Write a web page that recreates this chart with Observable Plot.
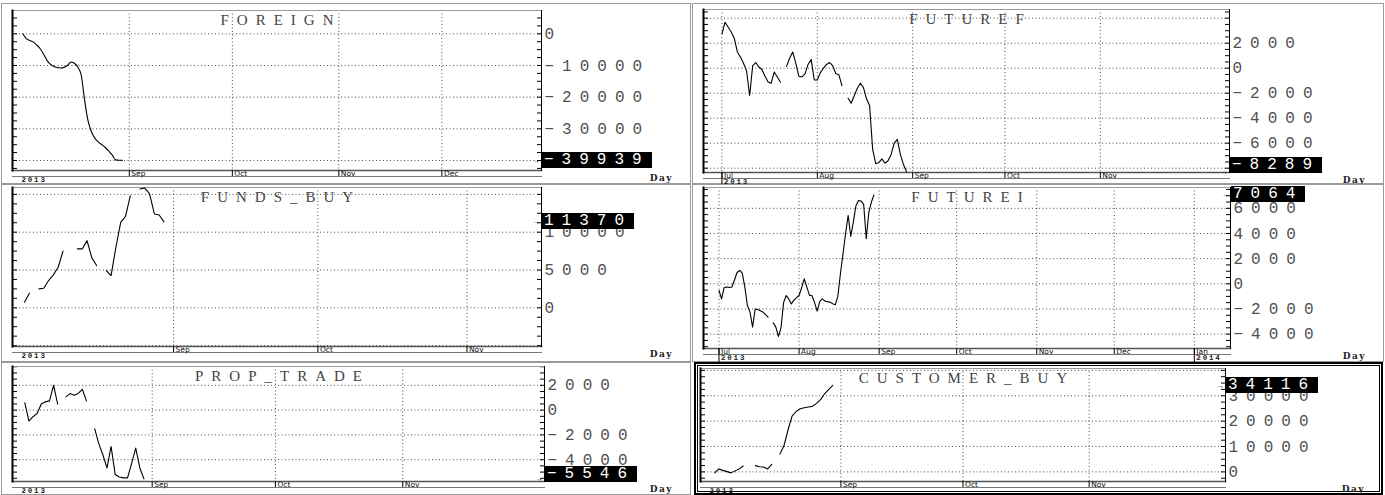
<!DOCTYPE html>
<html><head><meta charset="utf-8">
<script src="https://cdn.jsdelivr.net/npm/d3@7"></script>
<script src="https://cdn.jsdelivr.net/npm/@observablehq/plot@0.6"></script>
<style>
body{margin:0;background:#fff;}
#root{position:relative;width:1385px;height:495px;background:#fff;overflow:hidden}
.panel{position:absolute;background:#fff;overflow:hidden;box-shadow:inset 0 0 0 1px #9a9a9a;}
.panel.sel{box-shadow:inset 0 0 0 2px #000, inset 0 0 0 3px #fff, inset 0 0 0 4px #000;}
.panel svg{position:absolute;left:0;top:0;overflow:visible}
g[aria-label="y-axis tick label"] text{letter-spacing:8px}
.vbox{position:absolute;background:#000;color:#fff;font:16px "Liberation Mono",monospace;letter-spacing:8px;line-height:16px;height:16px;padding:0 2px 0 2px;white-space:nowrap}
.day{position:absolute;font:600 9px "DejaVu Serif",serif;letter-spacing:1.5px;color:#222}
</style></head><body><div id="root"></div><script>
// ---- data ----
const julDays = ["2013-07-01","2013-07-02","2013-07-03","2013-07-04","2013-07-05","2013-07-06","2013-07-07","2013-07-08","2013-07-09","2013-07-10","2013-07-11","2013-07-12","2013-07-13","2013-07-14","2013-07-15","2013-07-16","2013-07-17","2013-07-18","2013-07-19","2013-07-20","2013-07-21","2013-07-22","2013-07-23","2013-07-24","2013-07-25","2013-07-26","2013-07-27","2013-07-28","2013-07-29","2013-07-30","2013-07-31"];
const augDays = ["2013-08-01","2013-08-02","2013-08-03","2013-08-04","2013-08-05","2013-08-06","2013-08-07","2013-08-08","2013-08-09","2013-08-10","2013-08-11","2013-08-12","2013-08-13","2013-08-14","2013-08-15","2013-08-16","2013-08-17","2013-08-18","2013-08-19","2013-08-20","2013-08-21","2013-08-22","2013-08-23","2013-08-24","2013-08-25","2013-08-26","2013-08-27","2013-08-28","2013-08-29","2013-08-30"];
const julAugDays = julDays.concat(augDays);

const foreignValues = [0,-1500,-2100,-2550,-3500,-4650,-6300,-8300,-9600,-10300,-10650,-10800,-10600,-10000,-8900,-9300,-10500,-13000,-21000,-27500,-31000,-33000,-34200,-35000,-35900,-37000,-38200,-39800,-39939,-39939];
const futurefValues = [2747,3680,3300,2900,2400,1300,900,400,-200,-2187,213,450,100,-100,-650,-1100,-1200,-300,-700,-1120,null,150,800,1300,400,-650,-700,-450,300,700,-933,-950,-350,0,300,450,200,-430,-520,-1400,null,-2400,-2800,-2200,-1600,-1200,-1550,-2450,-3000,-6500,-7650,-7550,-7250,-7600,-7400,-6900,-6000,-5700,-6900,-7700,-8289];
const fundsBuyValues = [748,1936,null,2508,2596,3608,4356,5368,7500,null,null,7788,7788,8888,6600,5588,null,4928,4268,8008,11308,12100,14828,null,15708,15840,15100,12408,12276,11370];
const futureiValues = [-530,-1193,-300,-250,-300,-250,300,900,1060,850,-265,-1723,-2253,-3445,-2000,-2050,-2150,-2250,-2450,-2650,null,-3100,-3445,-4187,-3500,-1500,-928,-1200,-1600,-1300,-1100,-928,-300,398,-265,-900,-950,-1500,-2173,-1400,-1200,-1378,-1420,-1458,-1580,-1670,-1000,800,2385,4000,5433,3763,4903,6200,6625,6572,6307,3578,5698,6500,7064];
const propTradeValues = [587,-880,-533,-267,500,667,747,2000,480,null,1067,1333,1200,1350,1680,747,null,-1500,-2700,-3600,-4667,-2933,-5200,-5400,-5467,-5467,-4300,-3067,-4667,-5546];
const customerBuyValues = [-390,1169,600,100,-390,400,1169,2300,null,null,2468,2000,1900,1169,3000,null,7000,10262,16500,22000,23800,24900,25300,25590,25800,27000,28500,30786,32500,34116];

const foreignTicks = [0,-10000,-20000,-30000,-40000];
const futurefGrid = [4000,2000,0,-2000,-4000,-6000,-8000];
const futurefTicks = [2000,0,-2000,-4000,-6000,-8000];
const fundsGrid = [15000,10000,5000,0,-5000];
const fundsTicks = [10000,5000,0];
const futureiTicks = [6000,4000,2000,0,-2000,-4000];
const propTicks = [2000,0,-2000,-4000];
const customerGrid = [40000,30000,20000,10000,0];
const customerTicks = [30000,20000,10000,0];

const monthsSepDec = ["2013-09-01","2013-10-01","2013-11-01","2013-12-01"];
const monthsJulNov = ["2013-07-01","2013-08-01","2013-09-01","2013-10-01","2013-11-01"];
const monthsSepNov = ["2013-09-01","2013-10-01","2013-11-01"];
const monthsJulJan = ["2013-07-01","2013-08-01","2013-09-01","2013-10-01","2013-11-01","2013-12-01","2014-01-01"];

// ---- layout ----
const panels = [
  {title:"FOREIGN", dates:augDays, values:foreignValues, grid:foreignTicks, labels:foreignTicks, minor:2500, months:monthsSepDec, years:[{date:null,label:"2013"}],
   box:[1,3,690,181], frame:[12,10,541,170], xDomain:["2013-07-29","2013-12-30"], yDomain:[-43160,7360], curve:"monotone-x"},
  {title:"FUTUREF", dates:julAugDays, values:futurefValues, grid:futurefGrid, labels:futurefTicks, minor:500, months:monthsJulNov, years:[{date:"2013-07-01",label:"2013"}],
   box:[692,3,692,181], frame:[703,9,1229,172], xDomain:["2013-06-25","2013-12-13"], yDomain:[-8344,4696]},
  {title:"FUNDS_BUY", dates:augDays, values:fundsBuyValues, grid:fundsGrid, labels:fundsTicks, minor:1250, months:monthsSepNov, years:[{date:null,label:"2013"}],
   box:[1,184,690,178], frame:[12,187,541,346], xDomain:["2013-07-29T12:00Z","2013-11-16T12:00Z"], yDomain:[-5119,15913]},
  {title:"FUTUREI", dates:julAugDays, values:futureiValues, grid:futureiTicks, labels:futureiTicks, minor:500, months:monthsJulJan, years:[{date:"2013-07-01",label:"2013"},{date:"2014-01-01",label:"2014"}],
   box:[692,184,692,178], frame:[703,187,1230,348], xDomain:["2013-06-25","2014-01-15"], yDomain:[-5143,7655]},
  {title:"PROP_TRADE", dates:augDays, values:propTradeValues, grid:propTicks, labels:propTicks, minor:500, months:monthsSepNov, years:[{date:null,label:"2013"}],
   box:[1,362,690,133], frame:[12,366,544,481], xDomain:["2013-07-29","2013-12-05T12:00Z"], yDomain:[-5760,3520]},
  {title:"CUSTOMER_BUY", dates:augDays, values:customerBuyValues, grid:customerGrid, labels:customerTicks, minor:2500, months:monthsSepNov, years:[{date:null,label:"2013"}],
   box:[694,362,689,133], frame:[700,368,1225,481], xDomain:["2013-07-28T12:00Z","2013-12-04T12:00Z"], yDomain:[-3789,40742], sel:true}
];

const fmt = v => (v < 0 ? "\u2212" : "") + Math.abs(v);
const monthFmt = d3.utcFormat("%b");
const root = document.getElementById("root");

for (const p of panels) {
  const [px,py,pw,ph] = p.box, [l,t,r,b] = p.frame;
  const mL = l-px, mT = t-py, mR = px+pw-r, mB = py+ph-b;
  const plotW = r-l, plotH = b-t;
  const data = p.dates.map((d,i) => ({date: d3.isoParse(d), value: p.values[i]}));
  const months = p.months.map(d3.isoParse);
  const minor = d3.range(Math.ceil(p.yDomain[0]/p.minor)*p.minor, p.yDomain[1], p.minor);
  const last = p.values[p.values.length-1];
  const yrDated = p.years.filter(d => d.date);
  const yrLeft = p.years.filter(d => !d.date);
  const dotted = {stroke:"#000", strokeOpacity:0.7, strokeDasharray:"1,2.5"};
  const chart = Plot.plot({
    width: pw, height: ph, marginLeft: mL, marginRight: mR, marginTop: mT, marginBottom: mB,
    x: {type:"utc", domain: p.xDomain.map(d3.isoParse), axis: null},
    y: {domain: p.yDomain, axis: null},
    style: {background:"transparent", overflow:"visible", fontFamily:"Liberation Mono"},
    marks: [
      Plot.gridY(p.grid, dotted),
      Plot.gridX(months, dotted),
      Plot.tickY(minor, {y: d=>d, insetRight: plotW-5, stroke:"#000"}),
      Plot.tickY(minor, {y: d=>d, insetLeft: plotW-4, stroke:"#000"}),
      Plot.frame({anchor:"top", stroke:"#999"}),
      Plot.frame({anchor:"bottom", stroke:"#555", strokeWidth:1.5}),
      Plot.frame({anchor:"bottom", stroke:"#777", dy:6}),
      Plot.frame({anchor:"left", stroke:"#000", strokeWidth:2}),
      Plot.frame({anchor:"right", stroke:"#000"}),
      Plot.ruleX(months, {x:d=>d, insetTop: plotH, insetBottom:-6, stroke:"#000"}),
      Plot.ruleX(yrDated, {x:d=>d3.isoParse(d.date), insetTop: plotH, insetBottom:-14, stroke:"#000"}),
      Plot.text(months, {x:d=>d, frameAnchor:"bottom", text:d=>monthFmt(d), textAnchor:"start", lineAnchor:"top", dx:2, dy:0, fontSize:7.5, fontFamily:"DejaVu Sans", fill:"#111"}),
      Plot.text(yrDated, {x:d=>d3.isoParse(d.date), frameAnchor:"bottom", text:"label", textAnchor:"start", lineAnchor:"top", dx:2, dy:6.5, fontSize:7.5, fontWeight:"bold", fontFamily:"Liberation Mono", fill:"#222"}),
      Plot.text(yrLeft, {frameAnchor:"bottom-left", text:"label", textAnchor:"start", lineAnchor:"top", dx:9, dy:6.5, fontSize:7.5, fontWeight:"bold", fontFamily:"Liberation Mono", fill:"#222"}),
      Plot.lineY(data, {x:"date", y:"value", stroke:"#000", strokeWidth:1.1, curve: p.curve || "linear"}),
      Plot.text([p.title], {frameAnchor:"top", text:d=>d, lineAnchor:"middle", dy:10, dx:4, fontSize:15, fontFamily:"Liberation Serif", fill:"#444"}),
      Plot.axisY(p.labels, {anchor:"right", tickSize:0, tickPadding:3, tickFormat:fmt, fontSize:16, fontFamily:"Liberation Mono", color:"#505050", label:null}),
      Plot.text([last], {y:d=>d, frameAnchor:"right", text:()=>"\u2192", textAnchor:"end", dx:-3, fontSize:7})
    ]
  });
  // letter spacing for the title and the year labels
  const yearSet = new Set(p.years.map(d => d.label));
  chart.querySelectorAll("text").forEach(tx => {
    const inAxis = tx.closest('g[aria-label="y-axis tick label"]');
    if (inAxis) return;
    if (tx.textContent === p.title) tx.style.letterSpacing = "8px";
    else if (yearSet.has(tx.textContent)) tx.style.letterSpacing = "1.8px";
  });
  const div = document.createElement("div");
  div.className = "panel" + (p.sel ? " sel" : "");
  Object.assign(div.style, {left:px+"px", top:py+"px", width:pw+"px", height:ph+"px"});
  div.appendChild(chart);
  const ys = chart.scale("y").apply(last);
  const yc = Math.min(ys, mT+plotH-7);
  const vb = document.createElement("div");
  vb.className = "vbox";
  vb.textContent = fmt(last);
  vb.style.left = (mL+plotW+1)+"px";
  vb.style.top = (yc-8)+"px";
  div.appendChild(vb);
  const day = document.createElement("div");
  day.className = "day";
  day.textContent = "Day";
  day.style.right = "18px";
  day.style.top = (mT+plotH+3)+"px";
  div.appendChild(day);
  root.appendChild(div);
}
</script></body></html>
